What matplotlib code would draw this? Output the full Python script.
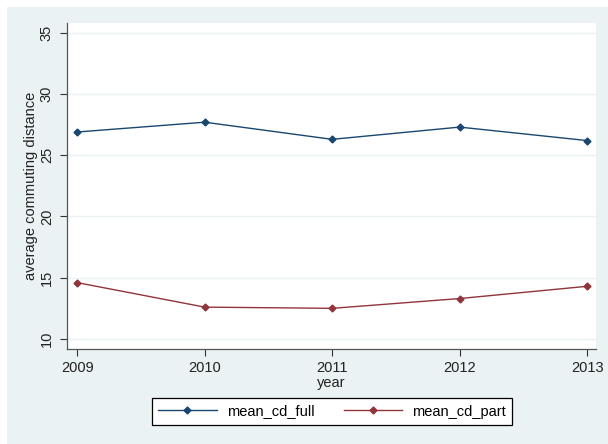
"""Stata-style line chart of average commuting distance by year."""
import matplotlib
matplotlib.use("Agg")
import matplotlib.pyplot as plt
from matplotlib.patches import Rectangle

years = [2009, 2010, 2011, 2012, 2013]
mean_cd_full = [26.9, 27.7, 26.3, 27.3, 26.2]
mean_cd_part = [14.6, 12.6, 12.5, 13.3, 14.3]
y_ticks = [10, 15, 20, 25, 30, 35]

BG = "#eaf2f3"
NAVY = "#1a476f"
MAROON = "#90353b"

plt.rcParams["font.family"] = ["Liberation Sans", "DejaVu Sans"]

W, H = 608, 444
fig = plt.figure(figsize=(W / 100, H / 100), dpi=100)
fig.patch.set_facecolor("white")
# graph region background (white strip left and top like the export)
fig.patches.append(Rectangle((7 / W, 0), 1, 1 - 7 / H, transform=fig.transFigure,
                             facecolor=BG, edgecolor="none", zorder=-5))

ax = fig.add_axes([67 / W, 1 - 349 / H, (596 - 67) / W, (349 - 23) / H])
ax.set_facecolor("white")

ax.plot(years, mean_cd_full, color=NAVY, lw=1.0, marker="D", ms=3.5,
        label="mean_cd_full")
ax.plot(years, mean_cd_part, color=MAROON, lw=1.0, marker="D", ms=3.5,
        label="mean_cd_part")

ax.set_xlim(2008.92, 2013.07)
ax.set_ylim(9.18, 35.8)
ax.set_xticks(years)
ax.set_yticks(y_ticks)
ax.set_yticklabels([str(t) for t in y_ticks], rotation=90, va="center")
ax.tick_params(labelsize=10.5, length=5, width=0.8, color="#333333",
               labelcolor="#222222")
ax.tick_params(axis="y", pad=4.5)
ax.grid(axis="y", color=BG, lw=1.0)
ax.set_axisbelow(True)
for s in ("top", "right"):
    ax.spines[s].set_visible(False)
for s in ("left", "bottom"):
    ax.spines[s].set_color("#555555")
    ax.spines[s].set_linewidth(0.9)

ax.set_xlabel("year", fontsize=10.5, labelpad=1, color="#222222")
ax.set_ylabel("average commuting distance", fontsize=10.5, labelpad=1.5,
              color="#222222")

leg = fig.legend(loc="center", bbox_to_anchor=(332 / W, 1 - 411.5 / H), ncol=2,
                 fontsize=10.5, frameon=True, fancybox=False, edgecolor="black",
                 facecolor="white", framealpha=1, handlelength=4.0,
                 columnspacing=2.0, handletextpad=0.7, borderpad=0.45)
leg.get_frame().set_linewidth(0.9)

fig.savefig("out.png", dpi=100, facecolor=fig.get_facecolor())
